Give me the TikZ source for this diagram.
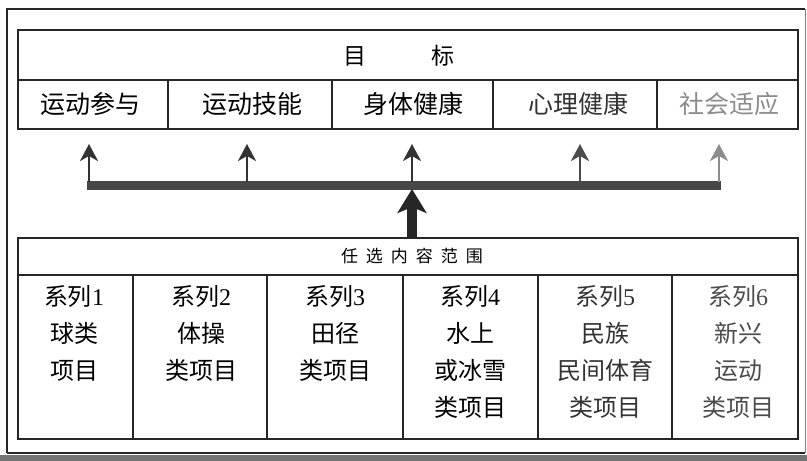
\documentclass[tikz,border=0pt]{standalone}
\usepackage{fontspec}
\setmainfont{Liberation Serif}
\newfontfamily\cjk{Noto Sans CJK SC}
\usetikzlibrary{arrows.meta}
\newcommand{\dg}[1]{{\rmfamily #1}}
\tikzset{
  frame/.style={line width=1.6pt, draw=black!85},
  box/.style={line width=1.1pt, draw=black!85},
  lbl/.style={font=\cjk\fontsize{25}{25}\selectfont, inner sep=0pt},
  title/.style={font=\cjk\fontsize{23}{23}\selectfont, inner sep=0pt},
  hdr/.style={font=\cjk\fontsize{17}{17}\selectfont, inner sep=0pt},
  col/.style={font=\cjk\fontsize{24}{37}\selectfont, align=center, anchor=north, inner sep=0pt},
  smallarrow/.style={line width=2.8pt, draw=black!80, -{Stealth[length=17pt,width=18pt,inset=5pt]}},
  bigarrow/.style={line width=10pt, draw=black!85, -{Stealth[length=24pt,width=29pt,inset=6pt]}},
  bar/.style={line width=9pt, draw=black!72},
}
\begin{document}
\begin{tikzpicture}[x=1pt,y=-1pt]
\useasboundingbox (0,0) rectangle (807,461);
\fill[white] (0,0) rectangle (807,461);
% outer frame
\draw[frame] (7,453) -- (7,9) -- (805,9);
\draw[line width=1pt, black!50] (805,9) -- (805,453);
\draw[frame] (7,453) -- (805,453);
\draw[line width=6pt, black!55] (0,458) -- (807,458);
% goal box
\draw[box] (18,30) rectangle (798,129);
\draw[box] (18,80) -- (798,80);
\foreach \x in {168,332,493,657} \draw[box] (\x,80) -- (\x,129);
\node[title] (m1) at (355,56) {目};
\node[title] (m2) at (443,56) {标};
\node[lbl] (g1) at (91,104) {运动参与};
\node[lbl] (g2) at (252,104) {运动技能};
\node[lbl] (g3) at (413,104) {身体健康};
\node[lbl, text=black!80] (g4) at (578,104) {心理健康};
\node[lbl, text=black!45] (g5) at (729,104) {社会适应};
% arrows
\coordinate (barL) at (87,185.5);
\coordinate (barR) at (721,185.5);
\draw[bar] (barL) -- (barR);
\foreach \i/\x/\c in {1/89/80,2/247/80,3/412/80,4/580/70,5/719/45}{
  \coordinate (s\i) at (\x,182);
  \coordinate (e\i) at (\x,144);
  \draw[smallarrow, draw=black!\c] (s\i) -- (e\i);
}
\coordinate (src) at (412,238);
\coordinate (dst) at (412,189);
\draw[bigarrow] (src) -- (dst);
% content box
\draw[box] (18,238) rectangle (798,439);
\draw[box] (18,275) -- (798,275);
\foreach \x in {133,267,403,538,672} \draw[box] (\x,275) -- (\x,439);
\node[hdr] (h) at (412,256) {任\hspace{8pt}选\hspace{8pt}内\hspace{8pt}容\hspace{8pt}范\hspace{8pt}围};
\node[col] (c1) at (74,285) {系列\dg{1}\\球类\\项目};
\node[col] (c2) at (201,285) {系列\dg{2}\\体操\\类项目};
\node[col] (c3) at (335,285) {系列\dg{3}\\田径\\类项目};
\node[col] (c4) at (470,285) {系列\dg{4}\\水上\\或冰雪\\类项目};
\node[col, text=black!80] (c5) at (605,285) {系列\dg{5}\\民族\\民间体育\\类项目};
\node[col, text=black!70] (c6) at (738,285) {系列\dg{6}\\新兴\\运动\\类项目};
\end{tikzpicture}
\end{document}
